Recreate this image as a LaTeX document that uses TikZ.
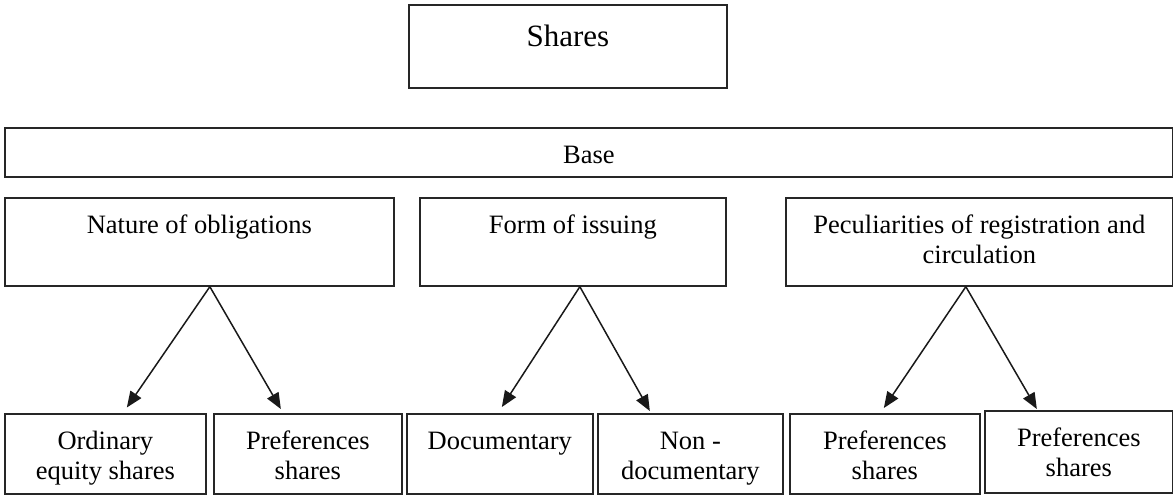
\documentclass[tikz,border=0pt]{standalone}
\usepackage{fontspec}
\setmainfont{Liberation Serif}
\usetikzlibrary{arrows.meta}
\newcommand\bxt[4]{\parbox[c][#2pt][t]{#1pt}{\centering\vspace*{#3pt}\strut #4}}
\begin{document}
\begin{tikzpicture}[x=1pt,y=-1pt,
  box/.style={draw=black!85, line width=1.7pt, inner sep=0pt, anchor=north west,
              font=\fontsize{26.5}{30}\selectfont},
  arr/.style={line width=1.5pt, draw=black!90, -{Triangle[length=16pt,width=13pt]}}]
\useasboundingbox (0,0) rectangle (1173,496);
\node[box] (shares) at (408,4) {\fontsize{31}{36}\selectfont\bxt{318}{83}{16}{Shares}};
\node[box] (base) at (4,127) {\bxt{1168}{49}{15}{Base}};
\node[box] (nat) at (4,197) {\bxt{389}{88}{15}{Nature of obligations}};
\node[box] (form) at (419,197) {\bxt{306}{88}{15}{Form of issuing}};
\node[box] (pec) at (785,197) {\bxt{387}{88}{15}{Peculiarities of registration and\\circulation}};
\node[box] (ord) at (4,413) {\bxt{201}{80}{15}{Ordinary\\equity shares}};
\node[box] (pref1) at (213,413) {\bxt{188}{80}{15}{Preferences\\shares}};
\node[box] (doc) at (406,413) {\bxt{186}{80}{15}{Documentary}};
\node[box] (nond) at (597,413) {\bxt{185}{80}{15}{Non -\\documentary}};
\node[box] (pref2) at (789,413) {\bxt{190}{80}{15}{Preferences\\shares}};
\node[box] (pref3) at (984,410) {\bxt{188}{82}{15}{Preferences\\shares}};
\draw[arr] ([xshift=10.5pt]nat.south) -- ([xshift=21.5pt,yshift=5.5pt]ord.north);
\draw[arr] ([xshift=10.5pt]nat.south) -- ([xshift=-27pt,yshift=4pt]pref1.north);
\draw[arr] ([xshift=7pt]form.south) -- ([xshift=2pt,yshift=6pt]doc.north);
\draw[arr] ([xshift=7pt]form.south) -- ([xshift=-40.5pt,yshift=2pt]nond.north);
\draw[arr] ([xshift=-13.5pt]pec.south) -- ([xshift=-1pt,yshift=5pt]pref2.north);
\draw[arr] ([xshift=-13.5pt]pec.south) -- ([xshift=-42pt,yshift=1pt]pref3.north);
\end{tikzpicture}
\end{document}
